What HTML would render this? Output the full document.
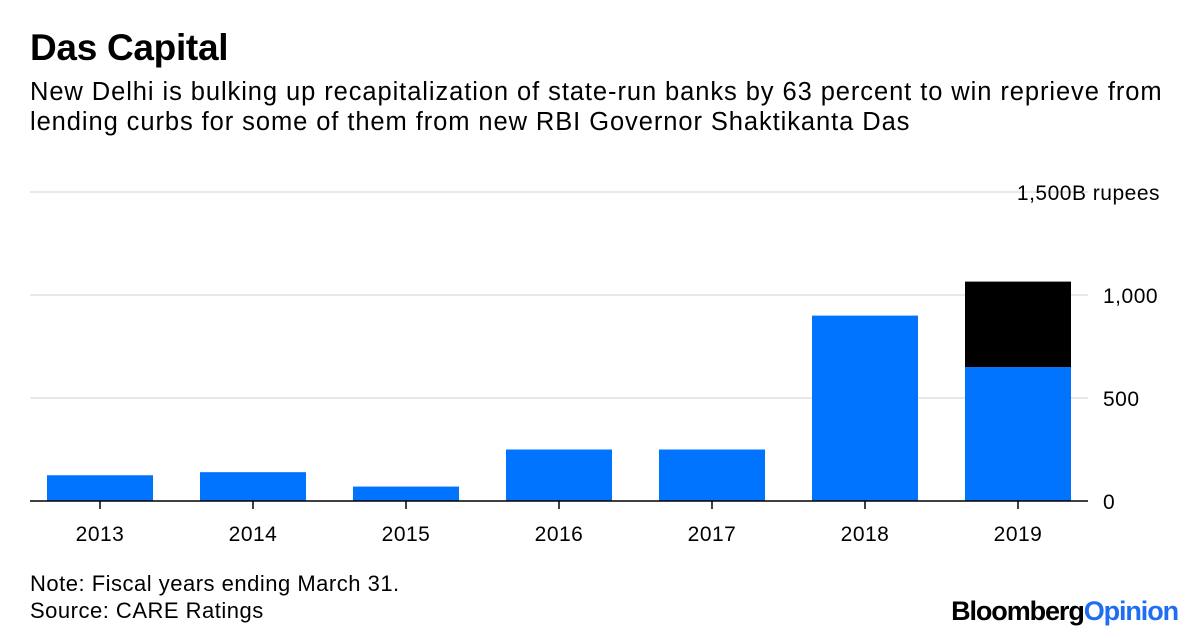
<!DOCTYPE html>
<html><head><meta charset="utf-8"><style>
body{margin:0;width:1200px;height:638px;background:#fff;font-family:"Liberation Sans",sans-serif;overflow:hidden;position:relative}
.t{position:absolute;left:30px;top:27px;font-size:37px;font-weight:bold;color:#000;letter-spacing:-0.3px}
.s{position:absolute;left:30px;top:77px;font-size:25.5px;line-height:30px;color:#000;width:1165px;letter-spacing:0.92px}
.f{position:absolute;left:30px;font-size:22px;color:#000;letter-spacing:0.5px}
.b{position:absolute;right:22px;top:596px;font-size:27px;font-weight:bold;letter-spacing:-1.1px}
</style></head><body>
<div class="t">Das Capital</div>
<div class="s">New Delhi is bulking up recapitalization of state-run banks by 63 percent to win reprieve from<br>lending curbs for some of them from new RBI Governor Shaktikanta Das</div>
<svg id="c" width="1200" height="638" style="position:absolute;left:0;top:0"></svg>
<div class="f" style="top:571px">Note: Fiscal years ending March 31.</div>
<div class="f" style="top:598px">Source: CARE Ratings</div>
<div class="b"><span style="color:#000">Bloomberg</span><span style="color:#1f6ef2">Opinion</span></div>
<script>
const categories=["2013","2014","2015","2016","2017","2018","2019"];
const baseValues=[125,140,70,250,250,900,650];
const extraValues=[0,0,0,0,0,0,415];
const tickValues=[0,500,1000,1500];
const tickLabels=["0","500","1,000","1,500B rupees"];
const NS="http://www.w3.org/2000/svg";
const svg=document.getElementById('c');
const y0=501,pxPer=0.206,x0=47,step=153,bw=106;
const y=v=>y0-v*pxPer;
const x=i=>x0+i*step;
function mk(t,a){const e=document.createElementNS(NS,t);for(const k in a)e.setAttribute(k,a[k]);svg.appendChild(e);return e;}
tickValues.forEach((v,i)=>{
 if(v>0){const g=mk('line',{x1:30,x2:1088,y1:y(v),y2:y(v),stroke:'#e8e8e8','stroke-width':2});
 
 }
 const t=mk('text',{x:i==3?1160:1103,y:y(v)+8,'font-size':21,'letter-spacing':0.5,'text-anchor':i==3?'end':'start',fill:'#000'});
 t.textContent=tickLabels[i];
 
 
});
categories.forEach((c,i)=>{
 const r=mk('rect',{x:x(i),y:y(baseValues[i]),width:bw,height:baseValues[i]*pxPer,fill:'#0074ff'});
 
 
 if(extraValues[i]>0){const r2=mk('rect',{x:x(i),y:y(baseValues[i]+extraValues[i]),width:bw,height:extraValues[i]*pxPer,fill:'#000'});
 
 }
 const tk=mk('line',{x1:x(i)+bw/2,x2:x(i)+bw/2,y1:y0,y2:y0+8,stroke:'#000','stroke-width':1.5});
 
 
 const t=mk('text',{x:x(i)+bw/2,y:541,'font-size':21,'letter-spacing':0.5,'text-anchor':'middle',fill:'#000'});
 t.textContent=c;
 
 
});
const ax=mk('line',{x1:30,x2:1088,y1:y0,y2:y0,stroke:'#000','stroke-width':1.5});


</script>
</body></html>
